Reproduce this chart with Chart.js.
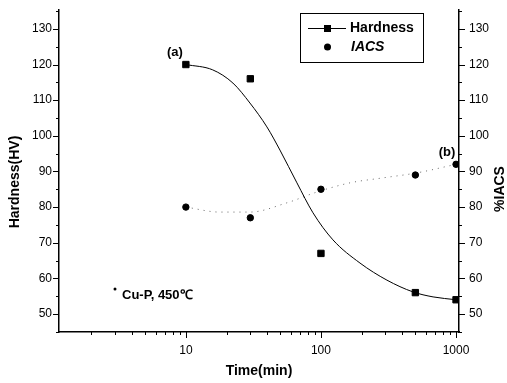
<!DOCTYPE html>
<html>
<head>
<meta charset="utf-8">
<script src="https://cdn.jsdelivr.net/npm/chart.js@4/dist/chart.umd.min.js"></script>
<style>
  body { margin: 0; background: #fff; }
</style>
</head>
<body>
<canvas id="myChart" width="507" height="383"></canvas>
<script>
// measured points
let pointTime = [10, 30, 100, 500, 1000];
let hardness = [120, 116, 67, 56, 54];
let iacs = [80, 77, 85, 89, 92];

// fitted curves
let hardFitTime = [10, 15.8, 22.3, 29.8, 39.8, 49.7, 66.4, 87.3, 122.7, 194.5, 308, 480, 676, 1000];
let hardFit = [120, 118.5, 114.8, 109.2, 102.5, 96, 86.8, 78.4, 70.8, 64.3, 59.5, 56.2, 54.8, 54];
let iacsFitTime = [10, 17.8, 29.8, 56, 93, 164, 288, 513, 1000];
let iacsFit = [80, 78.6, 78.6, 81.2, 84.2, 86.8, 88.2, 89.6, 92];

// tick labels
let xTicks = [10, 100, 1000];
let yTicks = [50, 60, 70, 80, 90, 100, 110, 120, 130];

const tickFont = { family: "'Liberation Sans Narrow', 'Liberation Sans', Arial, sans-serif", size: 12 };
const boldFont = "'Liberation Sans', Arial, sans-serif";

function pts(xs, ys) {
    return xs.map((t, i) => ({ x: t, y: ys[i] }));
}

function fixY(width) {
    return s => {
        s.width = width;
        s.paddingTop = 10;
        s.paddingBottom = 0;
    };
}

// axis tick marks, legend box and labels
const decor = {
    id: 'decor',
    afterDraw(chart) {
        const { ctx, chartArea: a, scales: { x, y, y1 } } = chart;
        ctx.save();
        ctx.strokeStyle = '#000';
        ctx.lineWidth = 1;
        ctx.beginPath();
        for (let v = 45; v <= 135; v += 5) {
            let len = v % 10 === 0 ? 6 : 3;
            let py = Math.round(y.getPixelForValue(v)) + 0.5;
            if (py < a.top - 1 || py > a.bottom + 1) continue;
            ctx.moveTo(a.left, py); ctx.lineTo(a.left - len, py);
            let py1 = Math.round(y1.getPixelForValue(v)) + 0.5;
            ctx.moveTo(a.right, py1); ctx.lineTo(a.right + len, py1);
        }
        for (let d = 1; d <= 1000; d *= 10) {
            for (let m = 1; m <= 9; m++) {
                let v = d * m;
                if (v < x.min || v > x.max) continue;
                let len = m === 1 ? 6 : 3;
                let px = Math.round(x.getPixelForValue(v)) + 0.5;
                ctx.moveTo(px, a.bottom); ctx.lineTo(px, a.bottom + len);
            }
        }
        ctx.stroke();

        // axis titles
        ctx.fillStyle = '#000';
        ctx.textAlign = 'center';
        ctx.textBaseline = 'middle';
        ctx.font = 'bold 14px ' + boldFont;
        ctx.save();
        ctx.translate(15, 182);
        ctx.rotate(-Math.PI / 2);
        ctx.fillText('Hardness(HV)', 0, 0);
        ctx.restore();
        ctx.save();
        ctx.translate(500, 189);
        ctx.rotate(-Math.PI / 2);
        ctx.fillText('%IACS', 0, 0);
        ctx.restore();

        // annotations
        ctx.font = 'bold 13px ' + boldFont;
        ctx.fillText('(a)', x.getPixelForValue(10) - 11, y.getPixelForValue(120) - 12);
        ctx.fillText('(b)', x.getPixelForValue(1000) - 9, y1.getPixelForValue(92) - 12);
        ctx.textAlign = 'left';
        ctx.fillText('Cu-P, 450\u2103', 122, 295);
        ctx.beginPath();
        ctx.arc(115, 289, 1.5, 0, Math.PI * 2);
        ctx.fill();

        // legend
        ctx.lineWidth = 1;
        ctx.strokeRect(300.5, 13.5, 123, 49);
        ctx.beginPath();
        ctx.moveTo(308, 28.5); ctx.lineTo(346, 28.5);
        ctx.stroke();
        ctx.fillRect(324, 25, 7, 7);
        ctx.beginPath();
        ctx.arc(327.5, 47, 3.5, 0, Math.PI * 2);
        ctx.fill();
        ctx.font = 'bold 14px ' + boldFont;
        ctx.fillText('Hardness', 350, 28);
        ctx.font = 'italic bold 14px ' + boldFont;
        ctx.fillText('IACS', 351, 47);
        ctx.restore();
    }
};

let ctx = document.getElementById('myChart');
let myChart = new Chart(ctx, {
    type: 'line',
    data: {
        datasets: [{
            label: 'Hardness',
            data: pts(pointTime, hardness),
            showLine: false,
            pointStyle: 'rect',
            pointRadius: 4.5,
            backgroundColor: '#000',
            borderColor: '#000',
            yAxisID: 'y'
        }, {
            label: 'Hardness fit',
            data: pts(hardFitTime, hardFit),
            borderColor: '#000',
            borderWidth: 1,
            pointRadius: 0,
            cubicInterpolationMode: 'monotone',
            yAxisID: 'y'
        }, {
            label: 'IACS',
            data: pts(pointTime, iacs),
            showLine: false,
            pointStyle: 'circle',
            pointRadius: 3.2,
            backgroundColor: '#000',
            borderColor: '#000',
            yAxisID: 'y1'
        }, {
            label: 'IACS fit',
            data: pts(iacsFitTime, iacsFit),
            borderColor: '#666',
            borderWidth: 1,
            borderDash: [1, 5],
            pointRadius: 0,
            cubicInterpolationMode: 'monotone',
            yAxisID: 'y1'
        }]
    },
    options: {
        responsive: false,
        animation: false,
        layout: { padding: { top: 10, left: 0, right: 0, bottom: 0 } },
        plugins: { legend: { display: false }, tooltip: { enabled: false } },
        scales: {
            x: {
                type: 'logarithmic',
                min: 1.15,
                max: 1052,
                afterBuildTicks: s => { s.ticks = xTicks.map(v => ({ value: v })); },
                afterFit: s => { s.height = 51; s.paddingLeft = 0; s.paddingRight = 0; },
                ticks: { callback: v => String(v), font: tickFont, color: '#000', padding: 11, autoSkip: false, maxRotation: 0 },
                grid: { display: false, drawTicks: false },
                border: { color: '#000', width: 1.5 },
                title: { display: true, text: 'Time(min)', color: '#000', font: { family: boldFont, size: 14, weight: 'bold' }, padding: { top: 0, bottom: 3 } }
            },
            y: {
                position: 'left',
                min: 44.95,
                max: 135.3,
                afterBuildTicks: s => { s.ticks = yTicks.map(v => ({ value: v })); },
                afterFit: fixY(59),
                ticks: { font: tickFont, color: '#000', padding: 7 },
                grid: { display: false, drawTicks: false },
                border: { color: '#000', width: 1.5 }
            },
            y1: {
                position: 'right',
                min: 44.95,
                max: 135.3,
                afterBuildTicks: s => { s.ticks = yTicks.map(v => ({ value: v })); },
                afterFit: fixY(48),
                ticks: { font: tickFont, color: '#000', padding: 10 },
                grid: { display: false, drawTicks: false },
                border: { color: '#000', width: 1.5 }
            }
        }
    },
    plugins: [decor]
});
</script>
</body>
</html>
